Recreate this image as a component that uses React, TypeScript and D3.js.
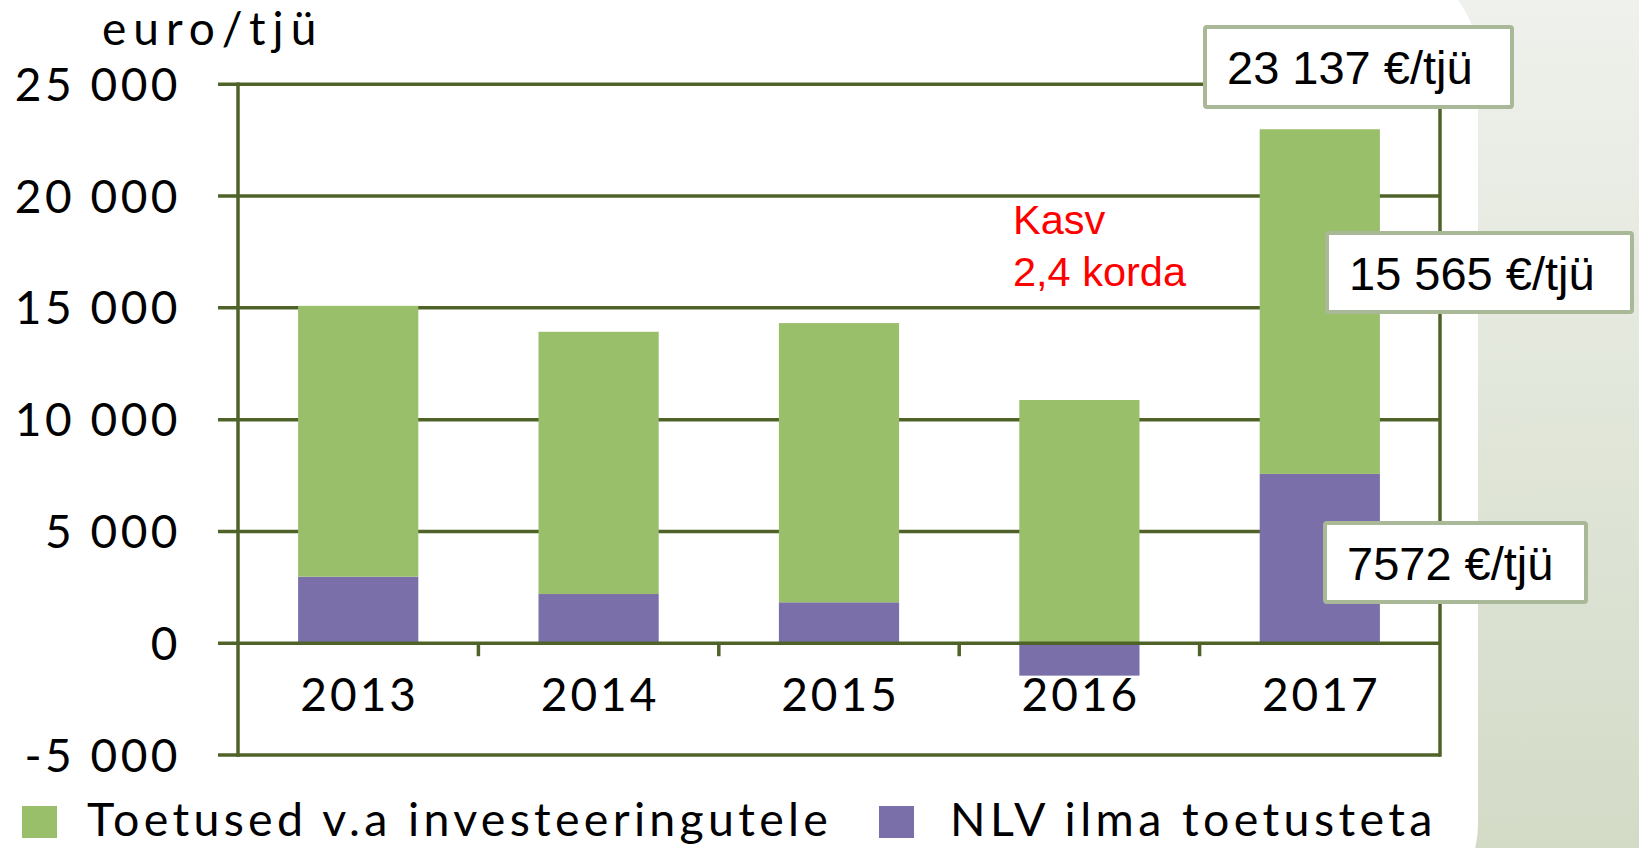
import React from 'react';
import * as d3 from 'd3';

const years = ['2013', '2014', '2015', '2016', '2017'];
const toetused = [12115, 11730, 12490, 10880, 15418];
const nlv = [2975, 2200, 1830, -1450, 7572];
const yTicks = [-5000, 0, 5000, 10000, 15000, 20000, 25000];
const yTickLabels = ['-5 000', '0', '5 000', '10 000', '15 000', '20 000', '25 000'];
const seriesNames = ['Toetused v.a investeeringutele', 'NLV ilma toetusteta'];
const unitLabel = 'euro/tjü';
const calloutTexts = ['23 137 €/tjü', '15 565 €/tjü', '7572 €/tjü'];
const noteLines = ['Kasv', '2,4 korda'];

const W = 1639;
const H = 848;
const GREEN = '#99bf6a';
const PURPLE = '#7a6fa9';
const AXIS = '#4f6228';
const CALC_FONT = 'Lato, "Open Sans", sans-serif';
const ARIAL = '"Liberation Sans", Arial, sans-serif';

export default function App() {
  const left = 238;
  const right = 1440;
  const top = 84.3;
  const bottom = 755;

  const x = d3.scaleBand<string>().domain(years).range([left, right]).paddingInner(0.5).paddingOuter(0.25);
  const y = d3.scaleLinear().domain([-5000, 25000]).range([bottom, top]);

  const rows = years.map((yr, i) => ({ year: yr, nlv: nlv[i], toetused: toetused[i] }));
  const stack = d3.stack<any>().keys(['nlv', 'toetused']).offset(d3.stackOffsetDiverging);
  const series = stack(rows);
  const colors: Record<string, string> = { nlv: PURPLE, toetused: GREEN };

  const step = x.step();
  const catTicks = d3.range(1, years.length).map((i) => left + i * step);

  const callouts = [
    { text: calloutTexts[0], bx: 1205, by: 27, bw: 307, bh: 80 },
    { text: calloutTexts[1], bx: 1327, by: 233, bw: 305, bh: 79 },
    { text: calloutTexts[2], bx: 1325, by: 523, bw: 261, bh: 79 },
  ];

  const legendPos = [
    { sx: 22, tx: 87, ls: 4.3 },
    { sx: 879, tx: 950, ls: 4.4 },
  ];

  return (
    <svg width={W} height={H} style={{ position: 'absolute', left: 0, top: 0, display: 'block' }}>
      <defs>
        <linearGradient id="bg" x1="0" y1="0" x2="0" y2="1">
          <stop offset="0" stopColor="#eff1ec" />
          <stop offset="1" stopColor="#d3dbc7" />
        </linearGradient>
      </defs>
      <rect x={0} y={0} width={W} height={H} fill="url(#bg)" />
      <rect x={-120} y={-40} width={1598} height={964} rx={100} ry={100} fill="#ffffff" />

      {/* gridlines */}
      {yTicks.filter((t) => t !== 0).map((t) => (
        <line key={t} x1={218} x2={right} y1={y(t)} y2={y(t)} stroke={AXIS} strokeWidth={3.5} />
      ))}

      {/* bars */}
      {series.map((s) => (
        <g key={s.key} fill={colors[s.key]}>
          {s.map((d, i) => (
            <rect
              key={i}
              x={x(years[i])}
              width={x.bandwidth()}
              y={y(Math.max(d[0], d[1]))}
              height={Math.abs(y(d[0]) - y(d[1]))}
            />
          ))}
        </g>
      ))}

      {/* zero axis */}
      <line x1={218} x2={right} y1={y(0)} y2={y(0)} stroke={AXIS} strokeWidth={3.5} />
      {catTicks.map((cx, i) => (
        <line key={i} x1={cx} x2={cx} y1={y(0)} y2={y(0) + 13} stroke={AXIS} strokeWidth={3.5} />
      ))}
      <line x1={left} x2={left} y1={top - 1.75} y2={bottom + 1.75} stroke={AXIS} strokeWidth={3.5} />
      <line x1={right} x2={right} y1={top - 1.75} y2={bottom + 1.75} stroke={AXIS} strokeWidth={3.5} />

      {/* y tick labels */}
      {yTicks.map((t, i) => (
        <text
          key={t}
          x={181}
          y={y(t) + 16.5}
          textAnchor="end"
          fontFamily={CALC_FONT}
          fontSize={46}
          letterSpacing={3.5}
          fill="#000"
        >
          {yTickLabels[i]}
        </text>
      ))}

      {/* x labels */}
      {years.map((yr) => (
        <text
          key={yr}
          x={(x(yr) as number) + x.bandwidth() / 2 + 1.5}
          y={711}
          textAnchor="middle"
          fontFamily={CALC_FONT}
          fontSize={46}
          letterSpacing={3}
          fill="#000"
        >
          {yr}
        </text>
      ))}

      {/* unit label */}
      <text x={102} y={45} fontFamily={CALC_FONT} fontSize={46} letterSpacing={7} fill="#000">
        {unitLabel}
      </text>

      {/* note */}
      {noteLines.map((ln, i) => (
        <text key={i} x={1013} y={234 + i * 52} fontFamily={ARIAL} fontSize={41.5} fill="#ff0000">
          {ln}
        </text>
      ))}

      {/* callouts */}
      {callouts.map((c, i) => (
        <g key={i}>
          <rect x={c.bx} y={c.by} width={c.bw} height={c.bh} rx={2} fill="#ffffff" stroke="#a9b896" strokeWidth={4} />
          <text x={c.bx + 22} y={c.by + 57} fontFamily={ARIAL} fontSize={47} fill="#000">
            {c.text}
          </text>
        </g>
      ))}

      {/* legend */}
      {seriesNames.map((name, i) => (
        <g key={name}>
          <rect x={legendPos[i].sx} y={806} width={35} height={32} fill={i === 0 ? GREEN : PURPLE} />
          <text
            x={legendPos[i].tx}
            y={836}
            fontFamily={CALC_FONT}
            fontSize={46.5}
            letterSpacing={legendPos[i].ls}
            fill="#000"
          >
            {name}
          </text>
        </g>
      ))}
    </svg>
  );
}
